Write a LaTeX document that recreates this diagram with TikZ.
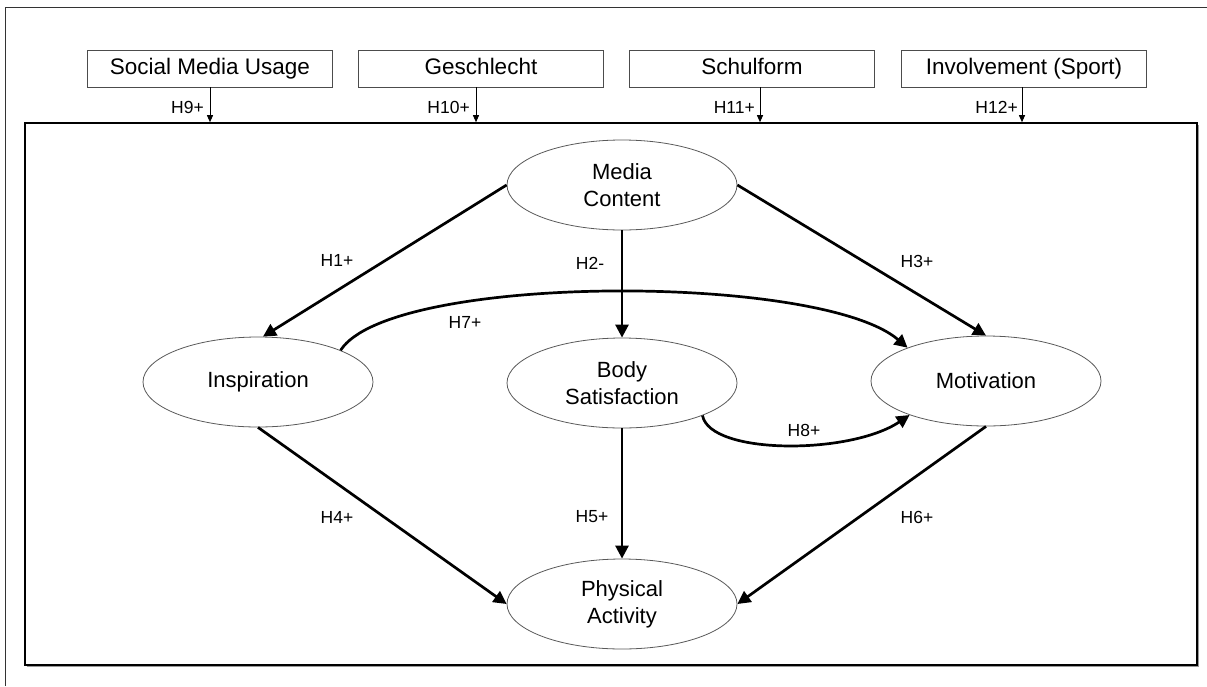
\documentclass[tikz,border=0pt]{standalone}
\usepackage{fontspec}
\setmainfont{Liberation Sans}
\usetikzlibrary{arrows.meta,shapes.geometric}
\begin{document}
\begin{tikzpicture}[x=1pt,y=-1pt,
  ell/.style={ellipse,draw=black!65,line width=0.8pt,minimum width=230pt,minimum height=90pt,inner sep=0pt,align=center,font=\fontsize{22}{27}\selectfont},
  topbox/.style={rectangle,draw=black!70,line width=0.9pt,minimum width=245pt,minimum height=37pt,inner sep=0pt,text height=16pt,text depth=4.5pt,font=\fontsize{22.5}{27}\selectfont},
  hyp/.style={font=\fontsize{17.5}{20}\selectfont,inner sep=0pt},
  bigarrow/.style={line width=2.7pt,-{Triangle[length=13pt,width=13pt]}},
  smallarrow/.style={line width=0.9pt,-{Triangle[length=7pt,width=6pt]}},
]
\useasboundingbox (0,0) rectangle (1207,686);
% outer frame
\draw[black!80,line width=0.8pt] (5,686) -- (5,7) -- (1207,7);
% inner frame
\draw[black!40,line width=1pt] (26.5,666.8) -- (1198.8,666.8) -- (1198.8,124.5);
\node[draw,line width=1.6pt,minimum width=1172pt,minimum height=542pt,inner sep=0pt] (frame) at (611,394) {};

% top boxes
\node[topbox] (smu) at (210,68.5) {Social Media Usage};
\node[topbox] (ges) at (481,68.5) {Geschlecht};
\node[topbox] (sch) at (752,68.5) {Schulform};
\node[topbox] (inv) at (1024,68.5) {Involvement (Sport)};

\draw[smallarrow] (smu.south) -- (smu.south |- frame.north);
\draw[smallarrow] ([xshift=-5pt]ges.south) -- ([xshift=-5pt]ges.south |- frame.north);
\draw[smallarrow] ([xshift=8pt]sch.south) -- ([xshift=8pt]sch.south |- frame.north);
\draw[smallarrow] ([xshift=-2pt]inv.south) -- ([xshift=-2pt]inv.south |- frame.north);

\node[hyp,anchor=east] (h9) at (204,107) {H9+};
\node[hyp,anchor=east] (h10) at (470,107) {H10+};
\node[hyp,anchor=east] (h11) at (755,107) {H11+};
\node[hyp,anchor=east] (h12) at (1018,107) {H12+};

% constructs
\node[ell] (mc) at (622,185) {Media\\Content};
\node[ell] (insp) at (258,382) {Inspiration};
\node[ell] (bs) at (622,383) {Body\\Satisfaction};
\node[ell] (mot) at (986,381) {Motivation};
\node[ell] (pa) at (622,604) {Physical\\Activity};

% paths
\draw[bigarrow] (mc.west) -- ([xshift=5pt]insp.north);
\draw[bigarrow] (mc.south) -- (bs.north);
\draw[bigarrow] (mc.east) -- (mot.north);
\draw[bigarrow] (insp.south) -- (pa.west);
\draw[bigarrow] (bs.south) -- (pa.north);
\draw[bigarrow] (mot.south) -- (pa.east);
\draw[bigarrow] (insp.21) .. controls (390,273) and (820,273) .. (mot.157);
\draw[bigarrow] (bs.-22) .. controls (710,455) and (850,455) .. (mot.204);

% labels
\node[hyp] (h1) at (337,260) {H1+};
\node[hyp] (h2) at (590,263) {H2-};
\node[hyp] (h3) at (917,261) {H3+};
\node[hyp] (h7) at (465,322) {H7+};
\node[hyp] (h8) at (804,430) {H8+};
\node[hyp] (h4) at (337,517) {H4+};
\node[hyp] (h5) at (592,517) {H5+};
\node[hyp] (h6) at (917,517) {H6+};
\end{tikzpicture}
\end{document}
